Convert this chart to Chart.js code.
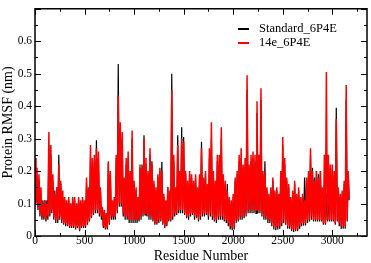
<!DOCTYPE html>
<html>
<head>
<meta charset="utf-8">
<script src="https://cdn.jsdelivr.net/npm/chart.js@4.4.1/dist/chart.umd.min.js"></script>
<style>
  html, body { margin: 0; padding: 0; background: #fff; }
</style>
</head>
<body>
<canvas id="chart" width="371" height="263"></canvas>
<script>
// RMSF in 20-residue bins: local high and local low of each bin
const binWidth = 20;

const standardHigh = [
  0.15, 0.18, 0.17, 0.13, 0.11, 0.11, 0.11, 0.28, 0.25, 0.17,
  0.14, 0.15, 0.25, 0.16, 0.12, 0.11, 0.10, 0.11, 0.10, 0.11,
  0.11, 0.10, 0.11, 0.10, 0.11, 0.10, 0.16, 0.14, 0.24, 0.22,
  0.23, 0.295, 0.24, 0.14, 0.08, 0.07, 0.07, 0.225, 0.19, 0.10,
  0.11, 0.24, 0.53, 0.33, 0.30, 0.16, 0.22, 0.24, 0.19, 0.30,
  0.16, 0.14, 0.11, 0.21, 0.22, 0.31, 0.22, 0.19, 0.25, 0.23,
  0.16, 0.14, 0.18, 0.20, 0.228, 0.12, 0.10, 0.15, 0.13, 0.50,
  0.23, 0.14, 0.31, 0.19, 0.335, 0.305, 0.19, 0.16, 0.19, 0.18,
  0.16, 0.18, 0.14, 0.18, 0.29, 0.17, 0.19, 0.15, 0.24, 0.30,
  0.19, 0.16, 0.23, 0.23, 0.30, 0.18, 0.16, 0.16, 0.11, 0.10,
  0.12, 0.17, 0.19, 0.23, 0.24, 0.21, 0.22, 0.45, 0.21, 0.23,
  0.24, 0.23, 0.38, 0.23, 0.42, 0.19, 0.23, 0.14, 0.12, 0.14,
  0.17, 0.13, 0.14, 0.12, 0.19, 0.28, 0.22, 0.17, 0.15, 0.11,
  0.13, 0.16, 0.12, 0.14, 0.11, 0.12, 0.18, 0.17, 0.19, 0.25,
  0.21, 0.18, 0.20, 0.19, 0.20, 0.14, 0.15, 0.13, 0.12, 0.21,
  0.21, 0.19, 0.395, 0.14, 0.12, 0.13, 0.16, 0.42, 0.19
];
const standardLow = [
  0.10, 0.08, 0.06, 0.05, 0.05, 0.045, 0.05, 0.06, 0.07, 0.05,
  0.04, 0.04, 0.05, 0.04, 0.035, 0.03, 0.03, 0.025, 0.025, 0.025,
  0.02, 0.025, 0.015, 0.025, 0.025, 0.025, 0.035, 0.045, 0.055, 0.065,
  0.07, 0.07, 0.06, 0.05, 0.025, 0.02, 0.02, 0.035, 0.05, 0.05,
  0.05, 0.07, 0.09, 0.09, 0.06, 0.05, 0.05, 0.04, 0.04, 0.04,
  0.04, 0.04, 0.045, 0.05, 0.06, 0.065, 0.06, 0.05, 0.05, 0.045,
  0.035, 0.035, 0.04, 0.045, 0.035, 0.025, 0.03, 0.045, 0.045, 0.05,
  0.06, 0.065, 0.07, 0.07, 0.07, 0.065, 0.055, 0.05, 0.06, 0.065,
  0.05, 0.055, 0.045, 0.05, 0.06, 0.06, 0.065, 0.05, 0.06, 0.05,
  0.045, 0.04, 0.05, 0.05, 0.05, 0.045, 0.04, 0.03, 0.02, 0.018,
  0.02, 0.04, 0.045, 0.05, 0.05, 0.055, 0.06, 0.07, 0.07, 0.07,
  0.07, 0.07, 0.07, 0.07, 0.06, 0.05, 0.05, 0.04, 0.04, 0.03,
  0.02, 0.018, 0.02, 0.022, 0.03, 0.04, 0.035, 0.022, 0.022, 0.015,
  0.012, 0.015, 0.015, 0.022, 0.03, 0.032, 0.032, 0.04, 0.045, 0.05,
  0.045, 0.045, 0.045, 0.045, 0.045, 0.035, 0.035, 0.045, 0.045, 0.045,
  0.045, 0.035, 0.045, 0.03, 0.022, 0.022, 0.022, 0.045, 0.11
];

const e14High = [
  0.24, 0.21, 0.19, 0.15, 0.10, 0.11, 0.10, 0.32, 0.28, 0.19,
  0.13, 0.15, 0.22, 0.17, 0.14, 0.12, 0.11, 0.12, 0.10, 0.12,
  0.12, 0.10, 0.12, 0.11, 0.12, 0.11, 0.18, 0.15, 0.28, 0.24,
  0.25, 0.27, 0.26, 0.15, 0.09, 0.08, 0.07, 0.23, 0.20, 0.11,
  0.12, 0.25, 0.433, 0.35, 0.32, 0.18, 0.24, 0.26, 0.20, 0.325,
  0.17, 0.15, 0.12, 0.22, 0.21, 0.30, 0.24, 0.20, 0.27, 0.22,
  0.17, 0.15, 0.19, 0.21, 0.20, 0.13, 0.11, 0.15, 0.14, 0.45,
  0.25, 0.15, 0.28, 0.20, 0.30, 0.29, 0.20, 0.17, 0.20, 0.19,
  0.17, 0.19, 0.15, 0.19, 0.27, 0.18, 0.20, 0.16, 0.27, 0.35,
  0.20, 0.17, 0.25, 0.25, 0.335, 0.19, 0.17, 0.14, 0.12, 0.11,
  0.13, 0.18, 0.20, 0.25, 0.27, 0.22, 0.24, 0.495, 0.22, 0.25,
  0.26, 0.25, 0.415, 0.25, 0.455, 0.20, 0.20, 0.15, 0.13, 0.15,
  0.18, 0.14, 0.15, 0.13, 0.20, 0.305, 0.24, 0.18, 0.16, 0.12,
  0.14, 0.17, 0.13, 0.15, 0.12, 0.13, 0.11, 0.18, 0.20, 0.27,
  0.20, 0.17, 0.20, 0.18, 0.20, 0.15, 0.25, 0.505, 0.25, 0.22,
  0.22, 0.20, 0.36, 0.15, 0.13, 0.14, 0.17, 0.465, 0.20
];
const e14Low = [
  0.10, 0.09, 0.07, 0.06, 0.06, 0.05, 0.06, 0.07, 0.08, 0.06,
  0.05, 0.05, 0.06, 0.05, 0.04, 0.04, 0.035, 0.03, 0.03, 0.03,
  0.025, 0.03, 0.02, 0.03, 0.03, 0.03, 0.04, 0.05, 0.06, 0.07,
  0.08, 0.08, 0.07, 0.06, 0.03, 0.025, 0.025, 0.04, 0.06, 0.06,
  0.06, 0.08, 0.10, 0.10, 0.07, 0.06, 0.06, 0.05, 0.05, 0.05,
  0.05, 0.05, 0.05, 0.06, 0.07, 0.07, 0.07, 0.06, 0.06, 0.05,
  0.04, 0.04, 0.05, 0.05, 0.04, 0.03, 0.035, 0.05, 0.05, 0.06,
  0.07, 0.07, 0.08, 0.08, 0.08, 0.07, 0.06, 0.06, 0.07, 0.07,
  0.06, 0.06, 0.05, 0.06, 0.07, 0.07, 0.07, 0.06, 0.07, 0.06,
  0.05, 0.05, 0.06, 0.06, 0.06, 0.05, 0.05, 0.04, 0.03, 0.025,
  0.03, 0.05, 0.05, 0.06, 0.06, 0.06, 0.07, 0.08, 0.08, 0.08,
  0.08, 0.08, 0.08, 0.08, 0.07, 0.06, 0.06, 0.05, 0.05, 0.04,
  0.03, 0.025, 0.03, 0.03, 0.04, 0.05, 0.04, 0.03, 0.03, 0.02,
  0.02, 0.02, 0.02, 0.03, 0.04, 0.04, 0.04, 0.05, 0.05, 0.06,
  0.05, 0.05, 0.05, 0.05, 0.05, 0.04, 0.04, 0.05, 0.05, 0.05,
  0.05, 0.04, 0.05, 0.04, 0.03, 0.03, 0.03, 0.05, 0.12
];

// each bin gives its high at the bin start and its low half a bin later
function trace(high, low) {
  const pts = [];
  high.forEach((h, i) => {
    pts.push({x: i * binWidth, y: h});
    pts.push({x: i * binWidth + binWidth / 2, y: low[i]});
  });
  return pts;
}

const xTickLabels = [0, 500, 1000, 1500, 2000, 2500, 3000];
const yTickLabels = [0, 0.1, 0.2, 0.3, 0.4, 0.5, 0.6];
const xMax = 3350, yMax = 0.7;

const serif = '"Liberation Serif", "DejaVu Serif", serif';

// inward ticks on all four sides, box frame, and the legend
const frameTicks = {
  id: 'frameTicks',
  afterDatasetsDraw(chart) {
    const {ctx, chartArea: a, scales: {x, y}} = chart;
    ctx.save();
    ctx.strokeStyle = '#000';
    ctx.lineWidth = 1;
    ctx.beginPath();
    for (let k = 0; k * 250 <= xMax; k++) {
      const px = Math.round(x.getPixelForValue(k * 250)) + 0.5;
      const len = k % 2 === 0 ? 6 : 3;
      ctx.moveTo(px, a.bottom); ctx.lineTo(px, a.bottom - len);
      ctx.moveTo(px, a.top); ctx.lineTo(px, a.top + len);
    }
    for (let k = 0; k <= 14; k++) {
      const py = Math.round(y.getPixelForValue(k * 0.05)) + 0.5;
      const len = k % 2 === 0 ? 6 : 3;
      ctx.moveTo(a.left, py); ctx.lineTo(a.left + len, py);
      ctx.moveTo(a.right, py); ctx.lineTo(a.right - len, py);
    }
    ctx.stroke();
    ctx.lineWidth = 1.5;
    ctx.strokeRect(a.left, a.top, a.right - a.left, a.bottom - a.top);

    // legend
    const items = [
      {label: 'Standard_6P4E', color: '#000000', y: 29},
      {label: '14e_6P4E', color: '#ff0000', y: 43}
    ];
    ctx.font = '12.5px ' + serif;
    ctx.textBaseline = 'middle';
    ctx.textAlign = 'left';
    items.forEach(it => {
      ctx.strokeStyle = it.color;
      ctx.lineWidth = 2;
      ctx.beginPath();
      ctx.moveTo(238, it.y); ctx.lineTo(249, it.y);
      ctx.stroke();
      ctx.fillStyle = '#000';
      ctx.fillText(it.label, 259, it.y - 0.5);
    });
    ctx.restore();
  }
};

const ctx = document.getElementById('chart').getContext('2d');
const chart = new Chart(ctx, {
  type: 'line',
  data: {
    datasets: [
      {
        label: 'Standard_6P4E',
        data: trace(standardHigh, standardLow),
        borderColor: '#000000',
        borderWidth: 1.2,
        pointRadius: 0,
        tension: 0,
        order: 2
      },
      {
        label: '14e_6P4E',
        data: trace(e14High, e14Low),
        borderColor: '#ff0000',
        borderWidth: 1.5,
        pointRadius: 0,
        tension: 0,
        order: 1
      }
    ]
  },
  options: {
    responsive: false,
    animation: false,
    events: [],
    layout: { padding: { top: 3, right: 4, left: 0, bottom: 0 } },
    plugins: {
      legend: { display: false },
      tooltip: { enabled: false }
    },
    scales: {
      x: {
        type: 'linear',
        min: 0,
        max: xMax,
        grid: { display: false, drawTicks: false },
        border: { display: false },
        afterFit: s => { s.height = 27; },
        afterBuildTicks: s => { s.ticks = xTickLabels.map(v => ({value: v})); },
        ticks: {
          color: '#000',
          padding: -1,
          maxRotation: 0,
          font: { family: serif, size: 11.5, lineHeight: 1 },
          callback: v => String(v)
        },
        title: {
          display: true,
          text: 'Residue Number',
          color: '#000',
          padding: 0,
          font: { family: serif, size: 14, lineHeight: 1 }
        }
      },
      y: {
        min: 0,
        max: yMax,
        grid: { display: false, drawTicks: false },
        border: { display: false },
        afterFit: s => { s.width = 35; },
        afterBuildTicks: s => { s.ticks = yTickLabels.map(v => ({value: v})); },
        ticks: {
          color: '#000',
          padding: 3,
          font: { family: serif, size: 11.5, lineHeight: 1 },
          callback: v => String(Math.round(v * 10) / 10)
        },
        title: {
          display: true,
          text: 'Protein RMSF (nm)',
          color: '#000',
          padding: { top: 1.6, bottom: 0 },
          font: { family: serif, size: 14, lineHeight: 1 }
        }
      }
    }
  },
  plugins: [frameTicks]
});
</script>
</body>
</html>
